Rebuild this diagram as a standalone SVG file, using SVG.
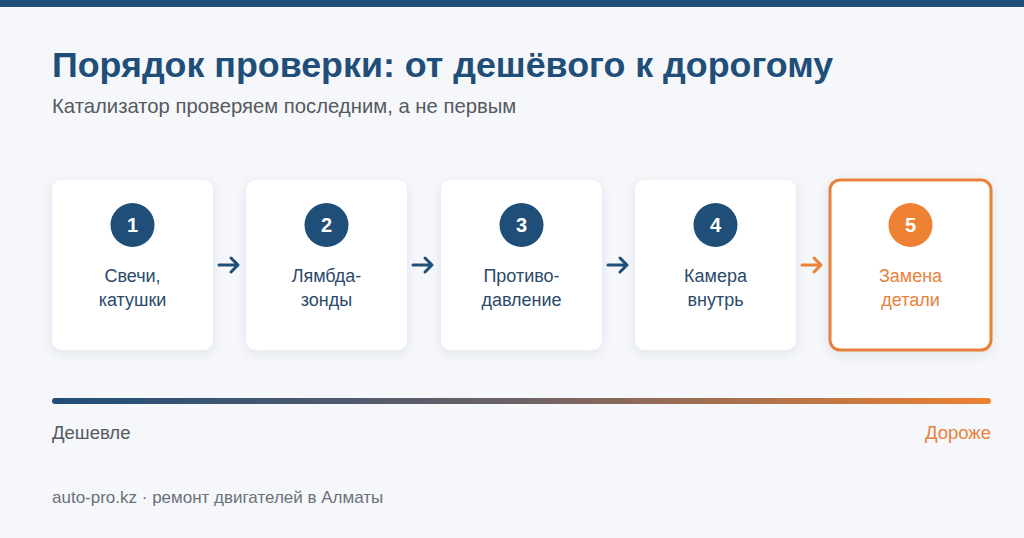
<svg xmlns="http://www.w3.org/2000/svg" width="1024" height="538" viewBox="0 0 1024 538">
<defs>
<style>
.title{font-family:"Liberation Sans",Arial,sans-serif;font-weight:bold;font-size:35.8px;fill:#1f4e79}
.sub{font-family:"Liberation Sans",Arial,sans-serif;font-size:20.3px;fill:#555a60}
.card{fill:#ffffff;filter:url(#sh)}
.num{font-family:"Liberation Sans",Arial,sans-serif;font-weight:bold;font-size:20px;fill:#ffffff;text-anchor:middle}
.lbl{font-family:"Liberation Sans",Arial,sans-serif;font-size:18px;fill:#2c4a6b;text-anchor:middle}
.lblo{font-family:"Liberation Sans",Arial,sans-serif;font-size:18px;fill:#e8823a;text-anchor:middle}
.arr{stroke:#1f4e79;stroke-width:3;fill:none;stroke-linecap:round;stroke-linejoin:round}
.arro{stroke:#e8823a;stroke-width:3;fill:none;stroke-linecap:round;stroke-linejoin:round}
.foot{font-family:"Liberation Sans",Arial,sans-serif;font-size:17px;fill:#6b7178}
.end{font-family:"Liberation Sans",Arial,sans-serif;font-size:18.5px}
</style>
<filter id="sh" x="-20%" y="-20%" width="140%" height="140%">
<feDropShadow dx="0" dy="3" stdDeviation="6" flood-color="#1f3a5a" flood-opacity="0.09"/>
</filter>
<linearGradient id="grad" x1="0" y1="0" x2="1" y2="0">
<stop offset="0" stop-color="#1f4e79"/>
<stop offset="0.5" stop-color="#6e6266"/>
<stop offset="1" stop-color="#ee8232"/>
</linearGradient>
</defs>
<rect width="1024" height="538" fill="#f5f7fb"/>
<rect width="1024" height="7" fill="#1f4e79"/>
<text class="title" x="52" y="77">Порядок проверки: от дешёвого к дорогому</text>
<text class="sub" x="52" y="113">Катализатор проверяем последним, а не первым</text>

<g id="node1">
<rect class="card" x="52" y="180" width="161" height="170" rx="10"/>
<circle cx="132.5" cy="225" r="22" fill="#1f4e79"/>
<text class="num" x="132.5" y="232">1</text>
<text class="lbl" x="132.5" y="282">Свечи,</text>
<text class="lbl" x="132.5" y="306">катушки</text>
</g>
<g id="node2">
<rect class="card" x="246" y="180" width="161" height="170" rx="10"/>
<circle cx="326.5" cy="225" r="22" fill="#1f4e79"/>
<text class="num" x="326.5" y="232">2</text>
<text class="lbl" x="326.5" y="282">Лямбда-</text>
<text class="lbl" x="326.5" y="306">зонды</text>
</g>
<g id="node3">
<rect class="card" x="441" y="180" width="161" height="170" rx="10"/>
<circle cx="521.5" cy="225" r="22" fill="#1f4e79"/>
<text class="num" x="521.5" y="232">3</text>
<text class="lbl" x="521.5" y="282">Противо-</text>
<text class="lbl" x="521.5" y="306">давление</text>
</g>
<g id="node4">
<rect class="card" x="635" y="180" width="161" height="170" rx="10"/>
<circle cx="715.5" cy="225" r="22" fill="#1f4e79"/>
<text class="num" x="715.5" y="232">4</text>
<text class="lbl" x="715.5" y="282">Камера</text>
<text class="lbl" x="715.5" y="306">внутрь</text>
</g>
<g id="node5">
<rect class="card" x="830" y="180" width="161" height="170" rx="10" stroke="#e8823a" stroke-width="3"/>
<circle cx="910.5" cy="225" r="22" fill="#ee8232"/>
<text class="num" x="910.5" y="232">5</text>
<text class="lblo" x="910.5" y="282">Замена</text>
<text class="lblo" x="910.5" y="306">детали</text>
</g>

<g id="connectors">
<path class="arr" d="M219 265 H238 M231 258 L238 265 L231 272"/>
<path class="arr" d="M413 265 H432 M425 258 L432 265 L425 272"/>
<path class="arr" d="M608 265 H627 M620 258 L627 265 L620 272"/>
<path class="arro" d="M802 265 H821 M814 258 L821 265 L814 272"/>
</g>

<rect x="52" y="398" width="939" height="6" rx="3" fill="url(#grad)"/>
<text class="end" x="52" y="439" fill="#555a60">Дешевле</text>
<text class="end" x="991" y="439" fill="#e8823a" text-anchor="end">Дороже</text>
<text class="foot" x="52" y="503">auto-pro.kz · ремонт двигателей в Алматы</text>
</svg>
